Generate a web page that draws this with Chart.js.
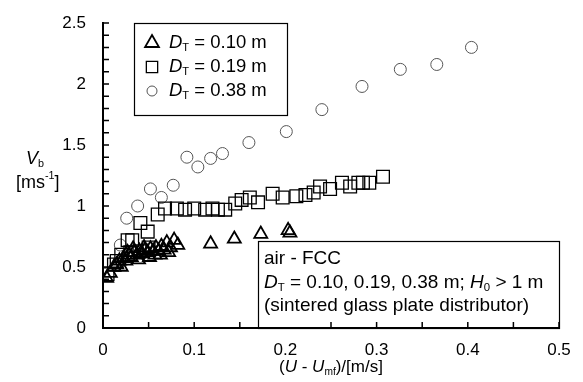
<!DOCTYPE html>
<html>
<head>
<meta charset="utf-8">
<script src="https://cdn.jsdelivr.net/npm/chart.js@4.4.1/dist/chart.umd.min.js"></script>
<style>
  html, body { margin: 0; padding: 0; background: #fff; }
  #wrap { width: 583px; height: 382px; }
</style>
</head>
<body>
<div id="wrap"><canvas id="chart" width="583" height="382"></canvas></div>
<script>
// D_T = 0.10 m
const triX = [0.004, 0.008, 0.012, 0.015, 0.018, 0.020, 0.022, 0.025, 0.027, 0.028, 0.031, 0.033, 0.034, 0.037, 0.039, 0.040, 0.043, 0.045, 0.046, 0.049, 0.051, 0.052, 0.055, 0.057, 0.058, 0.061, 0.063, 0.064, 0.067, 0.070, 0.072, 0.074, 0.078, 0.082, 0.118, 0.144, 0.173, 0.203, 0.205];
const triY = [0.41, 0.45, 0.50, 0.52, 0.55, 0.50, 0.57, 0.55, 0.62, 0.60, 0.58, 0.65, 0.62, 0.60, 0.56, 0.63, 0.61, 0.66, 0.64, 0.62, 0.58, 0.65, 0.63, 0.60, 0.66, 0.63, 0.60, 0.67, 0.64, 0.70, 0.62, 0.66, 0.72, 0.68, 0.69, 0.73, 0.77, 0.80, 0.78];
// D_T = 0.19 m
const sqX = [0.005, 0.012, 0.015, 0.020, 0.027, 0.030, 0.032, 0.040, 0.041, 0.049, 0.050, 0.060, 0.068, 0.081, 0.090, 0.100, 0.112, 0.120, 0.126, 0.134, 0.145, 0.152, 0.161, 0.170, 0.186, 0.197, 0.212, 0.222, 0.231, 0.238, 0.249, 0.262, 0.271, 0.280, 0.285, 0.292, 0.307];
const sqY = [0.44, 0.52, 0.55, 0.60, 0.72, 0.62, 0.72, 0.63, 0.86, 0.79, 0.66, 0.93, 0.98, 0.98, 0.97, 0.98, 0.97, 0.98, 0.97, 0.97, 1.02, 1.05, 1.07, 1.03, 1.10, 1.07, 1.08, 1.09, 1.11, 1.16, 1.14, 1.19, 1.16, 1.19, 1.19, 1.19, 1.24];
// D_T = 0.38 m
const cirX = [0.019, 0.026, 0.038, 0.052, 0.064, 0.077, 0.092, 0.104, 0.118, 0.131, 0.160, 0.201, 0.240, 0.284, 0.326, 0.366, 0.404];
const cirY = [0.68, 0.90, 1.00, 1.14, 1.07, 1.17, 1.40, 1.32, 1.39, 1.43, 1.52, 1.61, 1.79, 1.98, 2.12, 2.16, 2.30];

const seriesNames = ['0.10 m', '0.19 m', '0.38 m'];
const xLabelTicks = [0, 0.1, 0.2, 0.3, 0.4, 0.5];
const yLabelTicks = [0, 0.5, 1, 1.5, 2, 2.5];

const FONT = '"Liberation Sans", Arial, Helvetica, sans-serif';

function toPoints(xs, ys) {
  return xs.map((x, i) => ({ x: x, y: ys[i] }));
}

function isLabelTick(v, list) {
  return list.some(t => Math.abs(t - v) < 1e-6);
}

// draws a list of [text, kind] segments: n normal, i italic, sub, sup
function richText(ctx, parts, x, y, size) {
  let cx = x;
  parts.forEach(([txt, kind]) => {
    let fs = size, dy = 0, style = '';
    if (kind === 'i') style = 'italic ';
    if (kind === 'sub') { fs = size * 0.6; dy = size * 0.28; }
    if (kind === 'sup') { fs = size * 0.6; dy = -size * 0.4; }
    ctx.font = style + fs + 'px ' + FONT;
    ctx.fillText(txt, cx, y + dy);
    cx += ctx.measureText(txt).width;
  });
  return cx;
}

function textWidth(ctx, parts, size) {
  let w = 0;
  parts.forEach(([txt, kind]) => {
    const fs = (kind === 'sub' || kind === 'sup') ? size * 0.6 : size;
    ctx.font = (kind === 'i' ? 'italic ' : '') + fs + 'px ' + FONT;
    w += ctx.measureText(txt).width;
  });
  return w;
}

const decorPlugin = {
  id: 'decor',
  afterDraw(chart) {
    const ctx = chart.ctx;
    const xs = chart.scales.x, ys = chart.scales.y;
    const area = chart.chartArea;
    ctx.save();
    ctx.strokeStyle = '#000';
    ctx.fillStyle = '#000';

    // inward ticks
    ctx.lineWidth = 1.5;
    ctx.beginPath();
    for (let v = 0.05; v < 0.5001; v += 0.05) {
      const px = xs.getPixelForValue(v);
      ctx.moveTo(px, area.bottom);
      ctx.lineTo(px, area.bottom - 6);
    }
    for (let v = 0.1; v < 2.5001; v += 0.1) {
      const py = ys.getPixelForValue(v);
      ctx.moveTo(area.left, py);
      ctx.lineTo(area.left + 6, py);
    }
    ctx.stroke();

    // legend box
    ctx.lineWidth = 1.2;
    ctx.fillStyle = '#fff';
    ctx.fillRect(134, 23, 153, 92);
    ctx.strokeRect(134.5, 23.5, 153, 92);
    ctx.textBaseline = 'middle';
    ctx.textAlign = 'left';
    const legRows = [43, 67, 91];
    chart.data.datasets.forEach((ds, i) => {
      ctx.save();
      ctx.strokeStyle = ds.borderColor;
      ctx.fillStyle = 'rgba(255,255,255,0)';
      ctx.lineWidth = ds.borderWidth;
      Chart.helpers.drawPoint(ctx, { pointStyle: ds.pointStyle, radius: ds.legendRadius, rotation: 0, borderWidth: ds.borderWidth }, 152, legRows[i]);
      ctx.restore();
      ctx.fillStyle = '#000';
      richText(ctx, [['D', 'i'], ['T', 'sub'], [' = ' + seriesNames[i], 'n']], 169, legRows[i], 18.5);
    });

    // annotation box
    ctx.fillStyle = '#fff';
    ctx.fillRect(258, 241, area.right - 258, area.bottom - 241);
    ctx.lineWidth = 1.2;
    ctx.strokeRect(258.5, 241.5, area.right - 258, area.bottom - 241);
    ctx.fillStyle = '#000';
    richText(ctx, [['air - FCC', 'n']], 264, 259, 19);
    richText(ctx, [['D', 'i'], ['T', 'sub'], [' = 0.10, 0.19, 0.38 m; ', 'n'], ['H', 'i'], ['0', 'sub'], [' > 1 m', 'n']], 264, 283, 19);
    richText(ctx, [['(sintered glass plate distributor)', 'n']], 264, 306, 19);

    // redraw bottom axis over the box
    ctx.lineWidth = 2;
    ctx.beginPath();
    ctx.moveTo(area.left, area.bottom);
    ctx.lineTo(area.right, area.bottom);
    ctx.stroke();
    ctx.lineWidth = 1.5;
    ctx.beginPath();
    for (let v = 0.25; v < 0.5001; v += 0.05) {
      const px = xs.getPixelForValue(v);
      ctx.moveTo(px, area.bottom);
      ctx.lineTo(px, area.bottom - 6);
    }
    ctx.stroke();

    // axis titles
    const xTitle = [['(', 'n'], ['U', 'i'], [' - ', 'n'], ['U', 'i'], ['mf', 'sub'], [')/[m/s]', 'n']];
    const xw = textWidth(ctx, xTitle, 17);
    richText(ctx, xTitle, 331 - xw / 2, 367, 17);
    richText(ctx, [['V', 'i'], ['b', 'sub']], 26, 159, 18);
    richText(ctx, [['[ms', 'n'], ['-1', 'sup'], [']', 'n']], 16, 183, 18);
    ctx.restore();
  }
};

new Chart(document.getElementById('chart'), {
  type: 'scatter',
  data: {
    datasets: [
      {
        label: 'D_T = 0.10 m',
        data: toPoints(triX, triY),
        pointStyle: 'triangle',
        pointRadius: 7.5,
        legendRadius: 8,
        backgroundColor: 'rgba(255,255,255,0)',
        borderColor: '#000',
        borderWidth: 1.8
      },
      {
        label: 'D_T = 0.19 m',
        data: toPoints(sqX, sqY),
        pointStyle: 'rect',
        pointRadius: 9,
        legendRadius: 8,
        backgroundColor: 'rgba(255,255,255,0)',
        borderColor: '#000',
        borderWidth: 1.3
      },
      {
        label: 'D_T = 0.38 m',
        data: toPoints(cirX, cirY),
        pointStyle: 'circle',
        pointRadius: 6,
        legendRadius: 5,
        backgroundColor: 'rgba(255,255,255,0)',
        borderColor: '#555',
        borderWidth: 1
      }
    ]
  },
  options: {
    responsive: false,
    animation: false,
    events: [],
    layout: { padding: { left: 0, right: 24, top: 23, bottom: 0 } },
    plugins: {
      legend: { display: false },
      tooltip: { enabled: false }
    },
    scales: {
      x: {
        type: 'linear',
        min: 0,
        max: 0.5,
        afterFit: (s) => { s.height = 54; },
        afterBuildTicks: (s) => { s.ticks = xLabelTicks.map(v => ({ value: v })); },
        grid: { display: false },
        border: { display: true, color: '#000', width: 2 },
        ticks: {
          color: '#000',
          padding: 4,
          maxRotation: 0,
          font: { family: FONT, size: 17 },
          callback: (v) => isLabelTick(v, xLabelTicks) ? String(Math.round(v * 10) / 10) : ''
        }
      },
      y: {
        type: 'linear',
        min: 0,
        max: 2.5,
        afterFit: (s) => { s.width = 103; },
        afterBuildTicks: (s) => { s.ticks = yLabelTicks.map(v => ({ value: v })); },
        grid: { display: false },
        border: { display: true, color: '#000', width: 2 },
        ticks: {
          color: '#000',
          padding: 9,
          font: { family: FONT, size: 17 },
          callback: (v) => isLabelTick(v, yLabelTicks) ? String(Math.round(v * 10) / 10) : ''
        }
      }
    }
  },
  plugins: [decorPlugin]
});
</script>
</body>
</html>
